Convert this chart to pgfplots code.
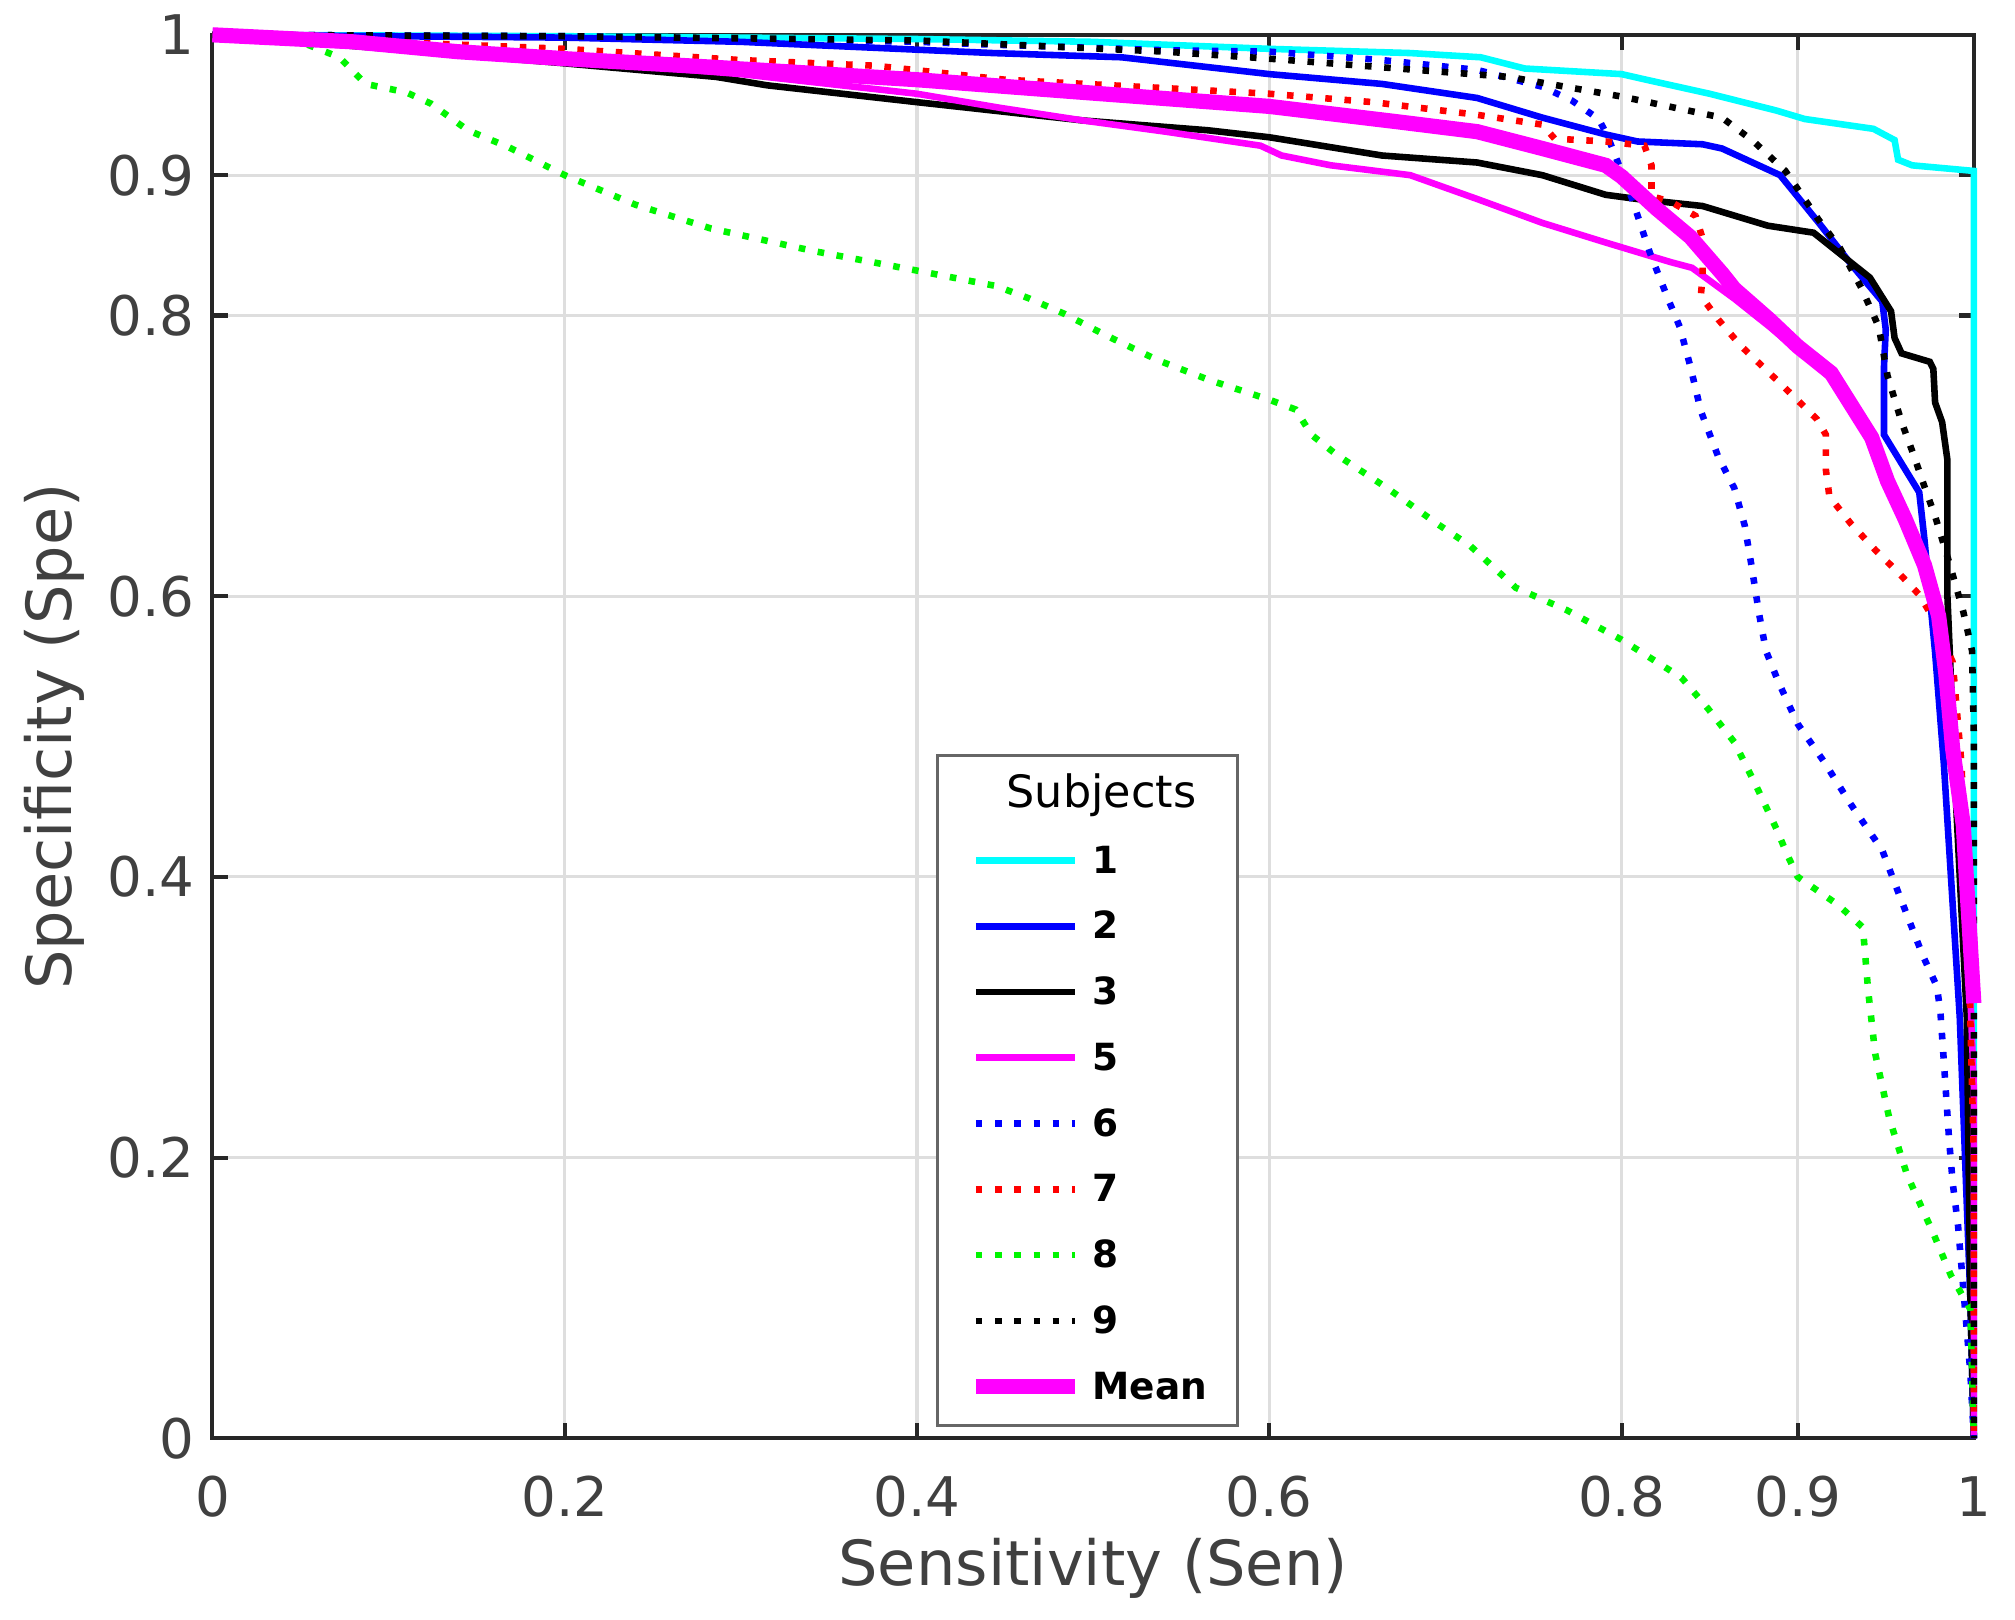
\documentclass[border=0pt]{standalone}
\usepackage{pgfplots}
\pgfplotsset{compat=1.18}
\usepackage{fontspec}
\setmainfont{DejaVu Sans}
\definecolor{axgray}{RGB}{38,38,38}
\definecolor{txgray}{RGB}{64,64,64}
\definecolor{grgray}{RGB}{222,222,222}
\definecolor{cgreen}{RGB}{0,245,0}
\definecolor{mcyan}{RGB}{0,255,255}
\definecolor{mmag}{RGB}{255,0,255}
\definecolor{mblue}{RGB}{0,0,255}
\definecolor{mred}{RGB}{255,0,0}
\newcommand\tlf{\fontsize{10.8}{12}\selectfont}
\begin{document}
\begin{tikzpicture}
\begin{axis}[
  name=ax,
  scale only axis,
  width=12.238cm, height=9.751cm,
  xmin=0, xmax=1, ymin=0, ymax=1,
  xtick={0,0.2,0.4,0.6,0.8,0.9,1},
  ytick={0,0.2,0.4,0.6,0.8,0.9,1},
  xticklabels={\tlf 0,\tlf 0.2,\tlf 0.4,\tlf 0.6,\tlf 0.8,\tlf 0.9,\tlf 1},
  yticklabels={\tlf 0,\tlf 0.2,\tlf 0.4,\tlf 0.6,\tlf 0.8,\tlf 0.9,\tlf 1},
  grid=major,
  major grid style={grgray, line width=0.6pt},
  axis line style={axgray, line width=0.8pt},
  major tick style={axgray, line width=0.8pt},
  major tick length=3pt,
  tick align=inside,
  clip=false,
  /pgf/number format/assume math mode=true,
  tick label style={text=txgray},
  xticklabel style={yshift=-4pt},
  xlabel={\fontsize{12.3}{14}\selectfont Sensitivity (Sen)},
  ylabel={\fontsize{12.3}{14}\selectfont Specificity (Spe)},
  every axis x label/.style={at={(axis description cs:0.5,-0.0927)}, anchor=center, text=txgray},
  every axis y label/.style={at={(axis description cs:-0.09,0.5)}, anchor=center, rotate=90, text=txgray},
  legend image code/.code={\draw[#1] (0pt,0pt) -- (19.6pt,0pt);},
  legend cell align=left,
  legend style={at={(axis cs:0.411,0.008)}, anchor=south west,
    draw=gray!80!black, line width=0.6pt, fill=white,
    inner xsep=6pt, inner ysep=4.2pt,
    row sep=6.0pt, column sep=2pt,
    nodes={inner sep=0pt, text height=6pt, text depth=1pt},
    font=\fontsize{7.4}{8}\selectfont\bfseries},
]
\addlegendimage{empty legend}
\addlegendentry{\hspace*{-17pt}\fontsize{8.8}{10}\selectfont\mdseries Subjects}

% Subject 1
\addplot[mcyan, line width=1.3pt] coordinates {
(0,1) (0.2,0.999) (0.4,0.997) (0.5,0.995) (0.6,0.990) (0.68,0.987) (0.72,0.984)
(0.745,0.976) (0.8,0.972) (0.814,0.968) (0.85,0.958) (0.888,0.946) (0.904,0.940)
(0.943,0.933) (0.955,0.925) (0.957,0.911) (0.965,0.907) (1.0,0.903) (1.0,0.0)};
\addlegendentry{1}

% Subject 2
\addplot[mblue, line width=1.3pt] coordinates {
(0,1) (0.2,0.998) (0.3,0.995) (0.443,0.987) (0.516,0.984) (0.6,0.972) (0.664,0.965)
(0.718,0.955) (0.755,0.941) (0.791,0.929) (0.809,0.924) (0.846,0.922) (0.857,0.919)
(0.89,0.900) (0.912,0.866) (0.93,0.837) (0.948,0.810) (0.950,0.790) (0.949,0.764)
(0.949,0.715) (0.969,0.674) (0.972,0.640) (0.978,0.560) (0.983,0.480) (0.992,0.300)
(0.998,0.100) (1,0)};
\addlegendentry{2}

% Subject 3
\addplot[black, line width=1.3pt] coordinates {
(0,1) (0.1,0.990) (0.197,0.980) (0.286,0.970) (0.315,0.964) (0.4,0.952) (0.494,0.939)
(0.565,0.932) (0.6,0.927) (0.664,0.914) (0.718,0.909) (0.755,0.900) (0.791,0.886)
(0.809,0.883) (0.846,0.878) (0.883,0.864) (0.909,0.859) (0.922,0.846) (0.941,0.827)
(0.953,0.803) (0.955,0.784) (0.959,0.773) (0.975,0.767) (0.977,0.762) (0.978,0.738)
(0.982,0.724) (0.985,0.697) (0.985,0.600) (0.990,0.450) (0.996,0.300) (0.998,0.100) (1,0)};
\addlegendentry{3}

% Subject 5
\addplot[mmag, line width=1.3pt] coordinates {
(0,1) (0.1,0.992) (0.2,0.982) (0.3,0.972) (0.4,0.958) (0.447,0.948) (0.494,0.939)
(0.541,0.931) (0.595,0.921) (0.607,0.914) (0.635,0.907) (0.68,0.900) (0.718,0.883)
(0.755,0.866) (0.791,0.852) (0.828,0.838) (0.84,0.834) (0.864,0.812) (0.884,0.792)
(0.9,0.775) (0.919,0.755) (0.93,0.737) (0.942,0.713) (0.951,0.682) (0.961,0.655)
(0.972,0.622) (0.98,0.586) (0.984,0.546) (0.988,0.491) (0.994,0.437) (0.997,0.350)
(1,0.250) (1,0)};
\addlegendentry{5}

% Subject 6
\addplot[mblue, line width=1.3pt, dash pattern=on 1.3pt off 2.5pt] coordinates {
(0,1) (0.2,0.999) (0.4,0.995) (0.443,0.993) (0.541,0.989) (0.6,0.988) (0.664,0.982)
(0.718,0.975) (0.755,0.963) (0.772,0.953) (0.787,0.940) (0.792,0.928) (0.797,0.912)
(0.806,0.883) (0.816,0.845) (0.826,0.813) (0.833,0.792) (0.839,0.764) (0.845,0.732)
(0.855,0.699) (0.864,0.677) (0.87,0.650) (0.874,0.620) (0.878,0.588) (0.882,0.561)
(0.889,0.539) (0.9,0.509) (0.915,0.482) (0.93,0.452) (0.948,0.419) (0.958,0.386)
(0.971,0.344) (0.979,0.322) (0.981,0.304) (0.983,0.268) (0.986,0.212) (0.988,0.182)
(0.991,0.152) (0.994,0.107) (0.998,0.047) (1,0)};
\addlegendentry{6}

% Subject 7
\addplot[mred, line width=1.3pt, dash pattern=on 1.3pt off 2.5pt] coordinates {
(0,1) (0.1,0.995) (0.2,0.990) (0.3,0.982) (0.376,0.978) (0.45,0.968) (0.541,0.962)
(0.6,0.958) (0.659,0.952) (0.718,0.943) (0.755,0.936) (0.762,0.926) (0.791,0.924)
(0.813,0.921) (0.817,0.907) (0.817,0.885) (0.828,0.881) (0.842,0.871) (0.846,0.855)
(0.846,0.828) (0.845,0.814) (0.855,0.797) (0.868,0.778) (0.884,0.759) (0.898,0.742)
(0.911,0.726) (0.916,0.715) (0.916,0.690) (0.918,0.671) (0.93,0.652) (0.944,0.633)
(0.957,0.617) (0.969,0.601) (0.978,0.582) (0.988,0.553) (0.993,0.480) (0.997,0.350)
(1,0.200) (1,0)};
\addlegendentry{7}

% Subject 8
\addplot[cgreen, line width=1.3pt, dash pattern=on 1.3pt off 2.5pt] coordinates {
(0,1) (0.05,0.995) (0.072,0.984) (0.087,0.965) (0.11,0.959) (0.124,0.951) (0.145,0.932)
(0.168,0.920) (0.2,0.900) (0.24,0.879) (0.283,0.862) (0.341,0.846) (0.4,0.832)
(0.445,0.821) (0.464,0.812) (0.484,0.801) (0.507,0.786) (0.537,0.768) (0.566,0.754)
(0.6,0.740) (0.615,0.733) (0.624,0.715) (0.638,0.701) (0.667,0.677) (0.696,0.651)
(0.714,0.636) (0.74,0.606) (0.769,0.590) (0.8,0.569) (0.834,0.542) (0.849,0.520)
(0.864,0.496) (0.876,0.466) (0.888,0.434) (0.894,0.416) (0.9,0.400) (0.923,0.380)
(0.937,0.364) (0.94,0.319) (0.944,0.274) (0.952,0.228) (0.962,0.188) (0.977,0.146)
(0.987,0.116) (0.998,0.092) (1,0)};
\addlegendentry{8}

% Subject 9
\addplot[black, line width=1.3pt, dash pattern=on 1.3pt off 2.5pt] coordinates {
(0,1) (0.2,0.999) (0.4,0.996) (0.541,0.988) (0.6,0.983) (0.673,0.976) (0.736,0.970)
(0.8,0.956) (0.857,0.941) (0.875,0.924) (0.893,0.903) (0.912,0.868) (0.924,0.848)
(0.936,0.820) (0.946,0.792) (0.951,0.757) (0.959,0.724) (0.966,0.700) (0.972,0.678)
(0.978,0.657) (0.986,0.624) (0.994,0.589) (0.999,0.561) (1,0.500) (1,0)};
\addlegendentry{9}

% Mean
\addplot[mmag, line width=3pt] coordinates {
(0,1) (0.08,0.995) (0.139,0.988) (0.2,0.983) (0.283,0.977) (0.4,0.968)
(0.494,0.959) (0.6,0.949) (0.673,0.938) (0.718,0.931) (0.755,0.919) (0.791,0.907)
(0.8,0.899) (0.82,0.876) (0.839,0.856) (0.857,0.830) (0.864,0.819) (0.884,0.797)
(0.9,0.778) (0.919,0.759) (0.93,0.737) (0.942,0.713) (0.951,0.682) (0.961,0.655)
(0.972,0.622) (0.98,0.586) (0.984,0.546) (0.988,0.491) (0.994,0.437) (0.996,0.394)
(1.0,0.310)};
\addlegendentry{Mean}
\end{axis}
\pgfresetboundingbox
\useasboundingbox (ax.south west) ++(-1.476cm,-1.261cm) rectangle ++(14cm,11.254cm);
\end{tikzpicture}
\end{document}
